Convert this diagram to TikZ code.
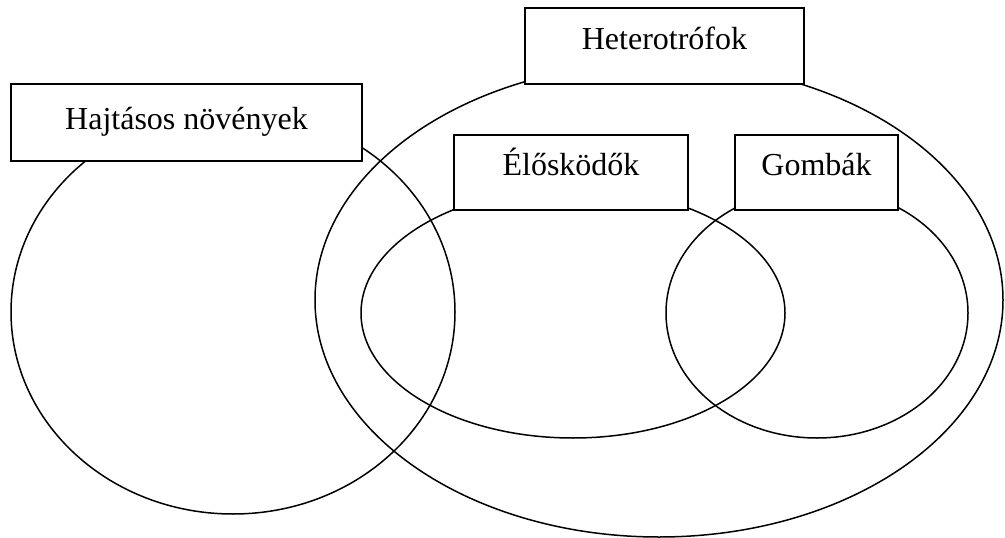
\documentclass[tikz,border=0pt]{standalone}
\usepackage{fontspec}
\setmainfont{Liberation Serif}
\begin{document}
\begin{tikzpicture}[x=1pt,y=-1pt,
  ring/.style={draw=black,line width=1.5pt},
  box/.style={draw=black,fill=white,line width=1.7pt,inner sep=0pt,minimum width=#1},
  lbl/.style={anchor=base,inner sep=0pt,font=\fontsize{32}{38}\selectfont}]
\useasboundingbox (0,0) rectangle (1005,538);
% sets
\draw[ring] (233,312) ellipse [x radius=222pt, y radius=202pt];
\draw[ring] (659,300) ellipse [x radius=344pt, y radius=237pt];
\draw[ring] (573,313) ellipse [x radius=212pt, y radius=125pt];
\draw[ring] (817,313) ellipse [x radius=151pt, y radius=125pt];
% boxes
\node[box=351pt,minimum height=77pt] (haj) at (186.5,122.5) {};
\node[lbl] (hajt) at ([yshift=-46pt]haj.north) {Hajtásos növények};
\node[box=279pt,minimum height=76pt] (het) at (664.5,46) {};
\node[lbl] (hett) at ([yshift=-42pt]het.north) {Heterotrófok};
\node[box=234pt,minimum height=75pt] (elo) at (571,172.5) {};
\node[lbl] (elot) at ([yshift=-41pt]elo.north) {Élősködők};
\node[box=163pt,minimum height=75pt] (gom) at (816.5,172.5) {};
\node[lbl] (gomt) at ([yshift=-41pt]gom.north) {Gombák};
\end{tikzpicture}
\end{document}
